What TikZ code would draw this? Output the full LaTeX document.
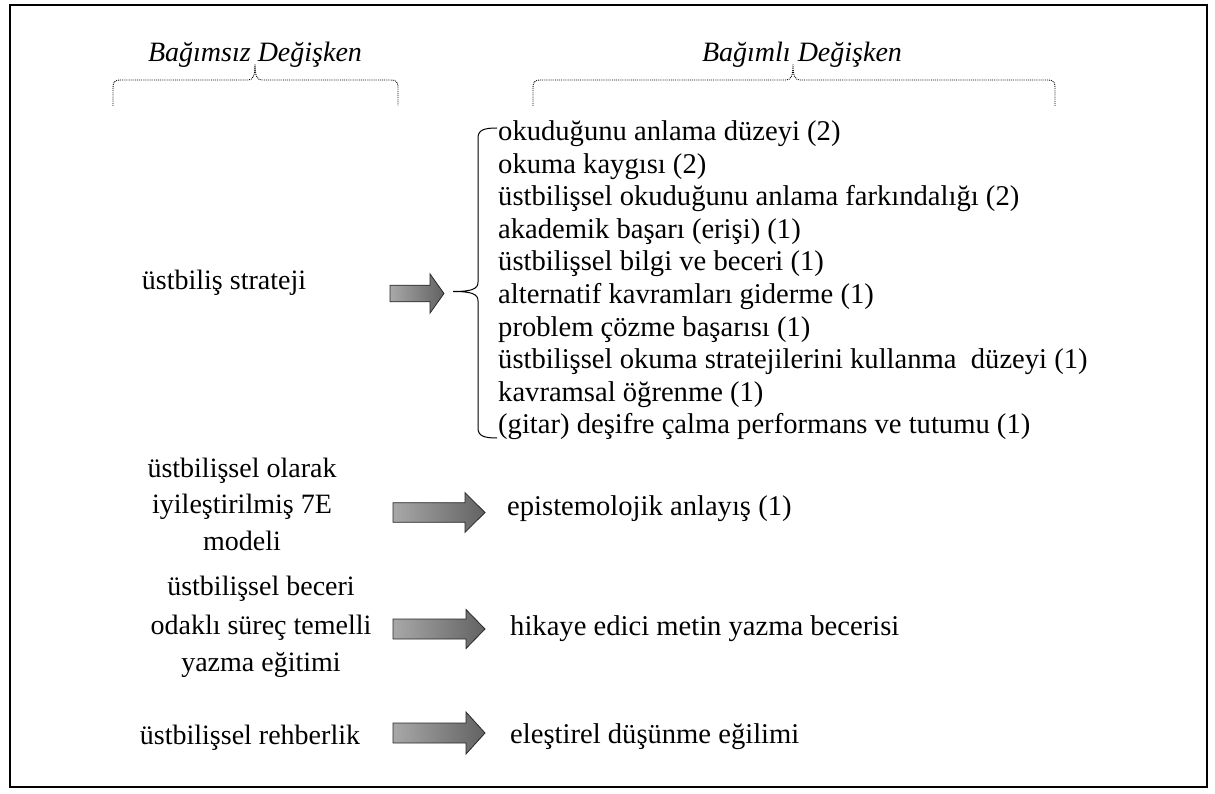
\documentclass[tikz,border=0pt]{standalone}
\usepackage{fontspec}
\setmainfont{Liberation Serif}
\definecolor{arrL}{RGB}{168,168,168}
\definecolor{arrR}{RGB}{98,98,98}
\definecolor{arrEdge}{RGB}{40,40,40}
\newcommand\blockarr[6]{%
  \path[blockarrow] (#1,#4-#5) -- (#2,#4-#5) -- (#2,#4-#6) -- (#3,#4) -- (#2,#4+#6) -- (#2,#4+#5) -- (#1,#4+#5) -- cycle;}
\begin{document}
\begin{tikzpicture}[x=1pt,y=-1pt,
  txt/.style={inner sep=0pt, anchor=base, font=\fontsize{28}{34}\selectfont},
  txtw/.style={txt, anchor=base west, font=\fontsize{28.6}{34}\selectfont},
  ital/.style={txt, font=\fontsize{28}{34}\selectfont\itshape},
  dbrace/.style={densely dotted, line width=0.9pt},
  sbrace/.style={line width=1pt},
  blockarrow/.style={draw=arrEdge, line width=0.8pt, left color=arrL, right color=arrR}]
\useasboundingbox (0,0) rectangle (1215,794);
\draw[line width=1.6pt] (10,5) rectangle (1207,787);

% headings
\node[ital] (hIndep) at (255,62) {Bağımsız Değişken};
\node[ital] (hDep) at (802,62) {Bağımlı Değişken};

% dotted braces
\draw[dbrace] (113,106) -- (113,87) .. controls (113,82) and (115,80) .. (120,80) -- (248,80)
  .. controls (253,80) and (255,76) .. (255,64) .. controls (255,76) and (257,80) .. (262,80)
  -- (391,80) .. controls (396,80) and (398,82) .. (398,87) -- (398,106);
\draw[dbrace] (533,106) -- (533,87) .. controls (533,82) and (535,80) .. (540,80) -- (786,80)
  .. controls (791,80) and (793,76) .. (793,64) .. controls (793,76) and (795,80) .. (800,80)
  -- (1048,80) .. controls (1053,80) and (1055,82) .. (1055,87) -- (1055,106);

% left side texts
\node[txt] (s1) at (224,290) {üstbiliş strateji};
\node[txt] (s2a) at (242,477) {üstbilişsel olarak};
\node[txt] (s2b) at (242,513) {iyileştirilmiş 7E};
\node[txt] (s2c) at (242,550) {modeli};
\node[txt] (s3a) at (261,595) {üstbilişsel beceri};
\node[txt] (s3b) at (261,634) {odaklı süreç temelli};
\node[txt] (s3c) at (261,671) {yazma eğitimi};
\node[txt] (s4) at (250,744) {üstbilişsel rehberlik};

% block arrows
\blockarr{390}{430}{444}{293.5}{8.3}{19.6}
\blockarr{393}{465}{485}{512.5}{9.8}{19.8}
\blockarr{393}{466}{485}{629}{10}{19.5}
\blockarr{393}{466}{485}{733}{10}{21}

% solid brace
\draw[sbrace] (497,128) .. controls (484,128) and (478,130) .. (478,138) -- (478,282)
  .. controls (478,289) and (472,291.5) .. (453,291.5) .. controls (472,291.5) and (478,294) .. (478,301)
  -- (478,428) .. controls (478,436) and (484,438) .. (497,438);

% dependent list
\foreach \t [count=\i] in {okuduğunu anlama düzeyi (2),
  okuma kaygısı (2),
  üstbilişsel okuduğunu anlama farkındalığı (2),
  akademik başarı (erişi) (1),
  üstbilişsel bilgi ve beceri (1),
  alternatif kavramları giderme (1),
  problem çözme başarısı (1),
  üstbilişsel okuma stratejilerini kullanma~ düzeyi (1),
  kavramsal öğrenme (1),
  (gitar) deşifre çalma performans ve tutumu (1)}
  \node[txtw] (d\i) at (498,{141+32.5*(\i-1)}) {\t};

\node[txtw] (r2) at (507,515) {epistemolojik anlayış (1)};
\node[txtw] (r3) at (510,635) {hikaye edici metin yazma becerisi};
\node[txtw] (r4) at (510,743) {eleştirel düşünme eğilimi};
\end{tikzpicture}
\end{document}
